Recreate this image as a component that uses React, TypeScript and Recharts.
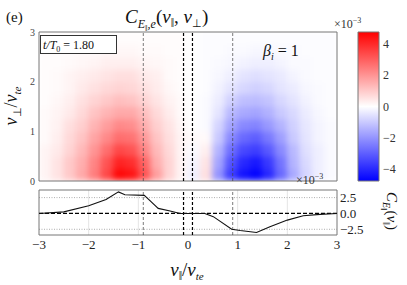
import React from 'react';
import {
  ScatterChart,
  Scatter,
  LineChart,
  Line,
  BarChart,
  Bar,
  XAxis,
  YAxis,
  CartesianGrid,
  ReferenceLine,
  ReferenceArea,
} from 'recharts';

// velocity-space grid (cell centres, in v_te)
const vParCenters = [
  -2.875, -2.625, -2.375, -2.125, -1.875, -1.625, -1.375, -1.125, -0.875, -0.625, -0.375, -0.125,
  0.125, 0.375, 0.625, 0.875, 1.125, 1.375, 1.625, 1.875, 2.125, 2.375, 2.625, 2.875,
];
const vPerpCenters = [0.125, 0.375, 0.625, 0.875, 1.125, 1.375, 1.625, 1.875, 2.125, 2.375, 2.625, 2.875];

// C_E(v_par, v_perp) x1e-3, one row per vPerpCenters entry
const fieldRows = [
  [0.2, 0.5, 1.0, 1.6, 2.4, 3.4, 4.6, 4.4, 3.2, 1.8, 0.8, 0.2, -0.3, 0.6, -2.0, -3.6, -4.4, -4.7, -4.0, -2.8, -1.6, -0.8, -0.3, -0.1],
  [0.2, 0.5, 1.0, 1.5, 2.3, 3.2, 4.1, 3.9, 2.9, 1.5, 0.8, 0.2, -0.2, 0.5, -1.7, -3.2, -4.0, -4.3, -3.7, -2.6, -1.4, -0.7, -0.3, -0.1],
  [0.2, 0.4, 0.8, 1.3, 2.0, 2.7, 3.4, 3.2, 2.3, 1.3, 0.7, 0.2, -0.1, 0.3, -1.4, -2.7, -3.4, -3.6, -3.1, -2.2, -1.3, -0.6, -0.3, -0.1],
  [0.1, 0.3, 0.7, 1.1, 1.7, 2.2, 2.7, 2.6, 1.9, 1.1, 0.6, 0.2, 0.1, 0.1, -1.0, -2.2, -2.8, -3.0, -2.5, -1.8, -1.0, -0.5, -0.2, -0.1],
  [0.1, 0.25, 0.6, 0.9, 1.4, 1.8, 2.2, 2.1, 1.5, 0.9, 0.5, 0.15, 0.0, -0.1, -0.8, -1.7, -2.2, -2.3, -1.9, -1.4, -0.85, -0.45, -0.2, -0.1],
  [0.1, 0.2, 0.4, 0.7, 1.1, 1.4, 1.6, 1.6, 1.2, 0.7, 0.35, 0.1, 0.0, -0.1, -0.5, -1.3, -1.6, -1.7, -1.45, -1.0, -0.7, -0.35, -0.15, -0.05],
  [0.05, 0.15, 0.3, 0.55, 0.8, 1.0, 1.2, 1.1, 0.8, 0.5, 0.25, 0.1, 0.0, -0.1, -0.35, -0.85, -1.2, -1.25, -1.1, -0.75, -0.5, -0.25, -0.1, -0.05],
  [0.05, 0.1, 0.2, 0.4, 0.55, 0.7, 0.8, 0.75, 0.55, 0.35, 0.15, 0.05, 0.0, -0.05, -0.25, -0.5, -0.75, -0.85, -0.75, -0.5, -0.35, -0.15, -0.1, -0.05],
  [0.05, 0.1, 0.2, 0.3, 0.4, 0.5, 0.6, 0.6, 0.4, 0.3, 0.1, 0.05, 0.0, -0.05, -0.15, -0.3, -0.5, -0.6, -0.5, -0.4, -0.2, -0.1, -0.05, -0.05],
  [0.05, 0.05, 0.1, 0.15, 0.2, 0.3, 0.3, 0.3, 0.2, 0.15, 0.1, 0.05, 0.0, -0.05, -0.1, -0.15, -0.25, -0.3, -0.3, -0.2, -0.1, -0.1, -0.05, -0.05],
  [0.05, 0.05, 0.05, 0.1, 0.1, 0.15, 0.15, 0.15, 0.1, 0.1, 0.05, 0.05, 0.0, -0.05, -0.05, -0.1, -0.1, -0.15, -0.15, -0.1, -0.1, -0.05, -0.05, -0.05],
  [0.05, 0.05, 0.05, 0.05, 0.05, 0.05, 0.05, 0.05, 0.05, 0.05, 0.05, 0.05, 0.0, -0.05, -0.05, -0.05, -0.05, -0.05, -0.05, -0.05, -0.05, -0.05, -0.05, -0.05],
];

// reduced correlation C_E(v_par) x1e-3
const curveVPar = [-3, -2.5, -2, -1.65, -1.4, -1.27, -0.88, -0.75, -0.6, -0.36, -0.16, 0.34, 0.51, 0.88, 1.05, 1.38, 1.65, 2.0, 2.32, 2.66, 3];
const curveCE = [0, 0.25, 1.2, 2.2, 3.4, 2.95, 2.85, 1.9, 0.8, 0.4, 0, 0, -0.5, -2.5, -2.7, -3.0, -2.1, -1.05, -0.37, -0.15, 0];

const xTicks = [-3, -2, -1, 0, 1, 2, 3];
const perpTicks = [0, 1, 2, 3];
const curveTicks = [-2.5, 0, 2.5];
const cbarTicks = [-4, -2, 0, 2, 4];
const cbarRange = [-4.75, 4.75];
const thinLines = [-0.9, 0.9];
const centreLines = [-0.09, 0.09];

const VMAX = 4.75;
const HEAT_W = 298;
const HEAT_H = 149;
const CELL_W = HEAT_W / vParCenters.length;
const CELL_H = HEAT_H / vPerpCenters.length;
const FONT = '"Liberation Serif", "Times New Roman", serif';
const PAR = '\u2016';

function bwr(v: number) {
  const t = Math.max(-1, Math.min(1, v / VMAX));
  if (t >= 0) {
    const g = Math.round(255 * (1 - t));
    return `rgb(255,${g},${g})`;
  }
  const g = Math.round(255 * (1 + t));
  return `rgb(${g},${g},255)`;
}

const cells = vPerpCenters.flatMap((y, j) =>
  vParCenters.map((x, i) => ({ x, y, c: fieldRows[j][i] }))
);
const curve = curveVPar.map((v, i) => ({ v, ce: curveCE[i] }));
const cbarData = [{ k: 'cb', r: cbarRange }];

const HeatCell = (props: any) => {
  const { cx, cy, payload } = props;
  return (
    <rect
      x={cx - CELL_W / 2 - 0.5}
      y={cy - CELL_H / 2 - 0.5}
      width={CELL_W + 1}
      height={CELL_H + 1}
      fill={bwr(payload.c)}
    />
  );
};
const NoMark = () => <g />;

const fmt = (v: number) => v.toFixed(1).replace('-', '\u2212');
const fmtInt = (v: number) => String(v).replace('-', '\u2212');

const layer: React.CSSProperties = { position: 'absolute', left: 0, top: 0 };

export default function App() {
  return (
    <div style={{ position: 'absolute', left: 0, top: 0, width: 407, height: 285, background: '#fff', overflow: 'hidden', fontFamily: FONT }}>
      {/* heatmap cells, smoothed */}
      <div style={{ position: 'absolute', left: 39, top: 32, width: HEAT_W, height: HEAT_H, overflow: 'hidden' }}>
        <div style={{ filter: 'blur(3.2px)' }}>
          <ScatterChart width={HEAT_W} height={HEAT_H} margin={{ top: 0, right: 0, bottom: 0, left: 0 }}>
            <XAxis type="number" dataKey="x" domain={[-3, 3]} hide />
            <YAxis type="number" dataKey="y" domain={[0, 3]} hide />
            <Scatter data={cells} shape={HeatCell} isAnimationActive={false} />
          </ScatterChart>
        </div>
      </div>

      {/* top panel axes and guide lines */}
      <div style={layer}>
        <ScatterChart width={407} height={285} margin={{ top: 32, right: 70, bottom: 104, left: 19 }}>
          <XAxis type="number" dataKey="x" domain={[-3, 3]} hide />
          <YAxis
            type="number"
            dataKey="y"
            domain={[0, 3]}
            ticks={perpTicks}
            interval={0}
            width={20}
            axisLine={false}
            tickLine={false}
            tickSize={2}
            tickMargin={2}
            tick={{ fontSize: 10, fill: '#444', fontFamily: FONT }}
          />
          <Scatter data={cells} shape={NoMark} isAnimationActive={false} />
          {thinLines.map((v) => (
            <ReferenceLine key={v} x={v} stroke="#444" strokeWidth={0.7} strokeDasharray="3 2" />
          ))}
          {centreLines.map((v) => (
            <ReferenceLine key={v} x={v} stroke="#000" strokeWidth={1.2} strokeDasharray="3 2" />
          ))}
          <ReferenceArea x1={-3} x2={3} y1={0} y2={3} fill="none" fillOpacity={0} stroke="#777" strokeWidth={1} />
        </ScatterChart>
      </div>

      {/* colour bar */}
      <div style={layer}>
        <BarChart width={407} height={285} data={cbarData} margin={{ top: 32, right: 8, bottom: 104, left: 358 }} barCategoryGap={0}>
          <defs>
            <linearGradient id="cbGrad" x1="0" y1="0" x2="0" y2="1">
              <stop offset="0%" stopColor="#ff0000" />
              <stop offset="50%" stopColor="#ffffff" />
              <stop offset="100%" stopColor="#0000ff" />
            </linearGradient>
          </defs>
          <XAxis dataKey="k" hide />
          <YAxis
            orientation="right"
            type="number"
            domain={cbarRange}
            ticks={cbarTicks}
            interval={0}
            width={20}
            axisLine={false}
            tickLine={false}
            tickSize={2}
            tickMargin={2}
            tickFormatter={fmtInt}
            tick={{ fontSize: 12, fill: '#333', fontFamily: FONT }}
          />
          <Bar dataKey="r" fill="url(#cbGrad)" stroke="#777" strokeWidth={1} isAnimationActive={false} />
        </BarChart>
      </div>

      {/* reduced C_E(v_par) */}
      <div style={layer}>
        <LineChart width={407} height={285} data={curve} margin={{ top: 190, right: 30, bottom: 28, left: 39 }}>
          <CartesianGrid horizontal={false} verticalValues={[-2, -1, 1, 2]} stroke="#ddd" strokeWidth={0.8} />
          <CartesianGrid vertical={false} horizontalValues={[-2.5, 2.5]} stroke="#999" strokeWidth={0.8} strokeDasharray="1 1.5" />
          <XAxis
            type="number"
            dataKey="v"
            domain={[-3, 3]}
            ticks={xTicks}
            interval={0}
            height={22}
            axisLine={false}
            tickLine={false}
            tickSize={3}
            tickMargin={2}
            tickFormatter={fmtInt}
            tick={{ fontSize: 13, fill: '#222', fontFamily: FONT }}
          />
          <YAxis
            orientation="right"
            type="number"
            domain={[-3.4, 3.7]}
            ticks={curveTicks}
            interval={0}
            width={40}
            axisLine={false}
            tickLine={false}
            tickSize={2}
            tickMargin={1}
            tickFormatter={fmt}
            tick={{ fontSize: 13, fill: '#222', fontFamily: FONT }}
          />
          <ReferenceLine y={0} stroke="#000" strokeWidth={1.2} strokeDasharray="4 2" />
          {thinLines.map((v) => (
            <ReferenceLine key={v} x={v} stroke="#444" strokeWidth={0.7} strokeDasharray="3 2" />
          ))}
          {centreLines.map((v) => (
            <ReferenceLine key={v} x={v} stroke="#000" strokeWidth={1.2} strokeDasharray="3 2" />
          ))}
          <Line type="linear" dataKey="ce" stroke="#111" strokeWidth={1.1} dot={false} isAnimationActive={false} />
          <ReferenceArea x1={-3} x2={3} y1={-3.4} y2={3.7} fill="none" fillOpacity={0} stroke="#777" strokeWidth={1} />
        </LineChart>
      </div>

      {/* annotations */}
      <svg width={407} height={285} style={{ ...layer, pointerEvents: 'none', fontFamily: FONT }}>
        <text x={6} y={22} fontSize={15} fill="#111">(e)</text>
        <text x={125} y={23} fontSize={19} fill="#111" fontStyle="italic">
          C<tspan fontSize={12} dy={5}>E</tspan>
          <tspan fontSize={9} dy={3} fontStyle="normal">{PAR}</tspan>
          <tspan fontSize={12} dy={-3}>,e</tspan>
          <tspan fontSize={19} dy={-5} fontStyle="normal">(</tspan>v
          <tspan fontSize={12} dy={4} fontStyle="normal">{PAR}</tspan>
          <tspan fontSize={19} dy={-4} fontStyle="normal">, </tspan>v
          <tspan fontSize={11} dy={4} fontStyle="normal">⊥</tspan>
          <tspan fontSize={19} dy={-4} fontStyle="normal">)</tspan>
        </text>

        <rect x={40.5} y={35.5} width={76} height={18} fill="#fff" stroke="#333" strokeWidth={1} />
        <text x={43} y={49} fontSize={12} fill="#111" fontStyle="italic">
          t/T<tspan fontSize={8} dy={3} fontStyle="normal">0</tspan>
          <tspan dy={-3} fontStyle="normal"> = 1.80</tspan>
        </text>

        <text x={263} y={56} fontSize={16} fill="#111" fontStyle="italic">
          β<tspan fontSize={10} dy={4}>i</tspan>
          <tspan dy={-4} fontStyle="normal"> = 1</tspan>
        </text>

        <text x={17} y={106} fontSize={18} fill="#111" fontStyle="italic" textAnchor="middle" transform="rotate(-90 17 106)">
          v<tspan fontSize={11} dy={4} fontStyle="normal">⊥</tspan>
          <tspan dy={-4} fontStyle="normal">/</tspan>v<tspan fontSize={11} dy={4}>te</tspan>
        </text>

        <text x={334} y={28} fontSize={12} fill="#333">
          ×10<tspan fontSize={8} dy={-5}>−3</tspan>
        </text>
        <text x={296} y={184} fontSize={12} fill="#333">
          ×10<tspan fontSize={8} dy={-5}>−3</tspan>
        </text>

        <text x={187} y={276} fontSize={19} fill="#111" fontStyle="italic" textAnchor="middle">
          v<tspan fontSize={12} dy={4} fontStyle="normal">{PAR}</tspan>
          <tspan dy={-4} fontStyle="normal">/</tspan>v<tspan fontSize={11} dy={4}>te</tspan>
        </text>

        <text x={387} y={211} fontSize={15} fill="#111" fontStyle="italic" textAnchor="middle" transform="rotate(90 387 211)">
          C<tspan fontSize={10} dy={4}>E</tspan>
          <tspan fontSize={8} dy={2} fontStyle="normal">{PAR}</tspan>
          <tspan dy={-6} fontStyle="normal">(</tspan>v
          <tspan fontSize={10} dy={4} fontStyle="normal">{PAR}</tspan>
          <tspan dy={-4} fontStyle="normal">)</tspan>
        </text>
      </svg>
    </div>
  );
}
